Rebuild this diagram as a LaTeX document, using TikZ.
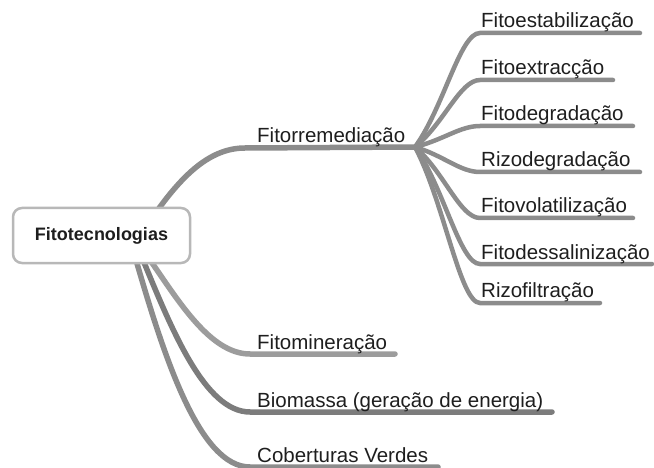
\documentclass[tikz,border=0pt]{standalone}
\usepackage{fontspec}
\setmainfont{Liberation Sans}
\definecolor{txt}{HTML}{1E1E1E}
\definecolor{br}{HTML}{8C8C8C}
\definecolor{brlight}{HTML}{9C9C9C}
\definecolor{brdark}{HTML}{7C7C7C}
\definecolor{boxline}{HTML}{B8B8B8}
\begin{document}
\begin{tikzpicture}[x=1pt,y=-1pt,
  mainbr/.style={draw=br, line width=5.5pt, line cap=round},
  subbr/.style={draw=br, line width=4.5pt, line cap=round},
  lbl/.style={anchor=base west, inner sep=0pt, text=txt, font=\fontsize{20.5}{24}\selectfont},
  rootbox/.style={draw=boxline, fill=white, line width=2.5pt, rounded corners=9pt,
    minimum width=177pt, minimum height=55pt, inner sep=0pt, text=txt,
    font=\fontsize{18}{22}\selectfont\bfseries}]
\useasboundingbox (0,0) rectangle (654,468);

% hub and branch coordinates
\coordinate (hub) at (415,147);
\coordinate (r1) at (157,211);
\coordinate (r2) at (150,260);
\coordinate (r3) at (143,260);
\coordinate (r4) at (136,260);
\coordinate (e2) at (395,354);
\coordinate (e3) at (552,412);
\coordinate (e4) at (438,467);

% main branches
\draw[mainbr] (r1) .. controls (185,172) and (212,148) .. (245,148) -- (hub);
\draw[mainbr, draw=brlight] (r2) .. controls (178,300) and (210,354) .. (250,354) -- (e2);
\draw[mainbr, draw=brdark] (r3) .. controls (172,330) and (205,412) .. (250,412) -- (e3);
\draw[mainbr] (r4) .. controls (165,360) and (200,467) .. (250,467) -- (e4);

% sub branches of Fitorremediacao
\foreach \n/\y/\e/\t in {fe/33/640/Fitoestabilização, fx/80/613/Fitoextracção,
  fd/126/633/Fitodegradação, rd/172/640/Rizodegradação, fv/218/633/Fitovolatilização,
  fs/264/652/Fitodessalinização, rf/303/600/Rizofiltração} {
  \coordinate (\n e) at (\e,\y);
  \draw[subbr] (hub) .. controls (444,{147+0.35*(\y-147)}) and (460,\y) .. (480,\y) -- (\n e);
  \node[lbl] (\n) at (481,{\y-5}) {\t};
}

% labels of main branches
\node[lbl] (fr) at (257,143) {Fitorremediação};
\node[lbl] (fm) at (257,349) {Fitomineração};
\node[lbl] (bm) at (257,407) {Biomassa (geração de energia)};
\node[lbl] (cv) at (257,462) {Coberturas Verdes};

% root
\node[rootbox] (root) at (101.5,235.5) {Fitotecnologias};
\end{tikzpicture}
\end{document}
